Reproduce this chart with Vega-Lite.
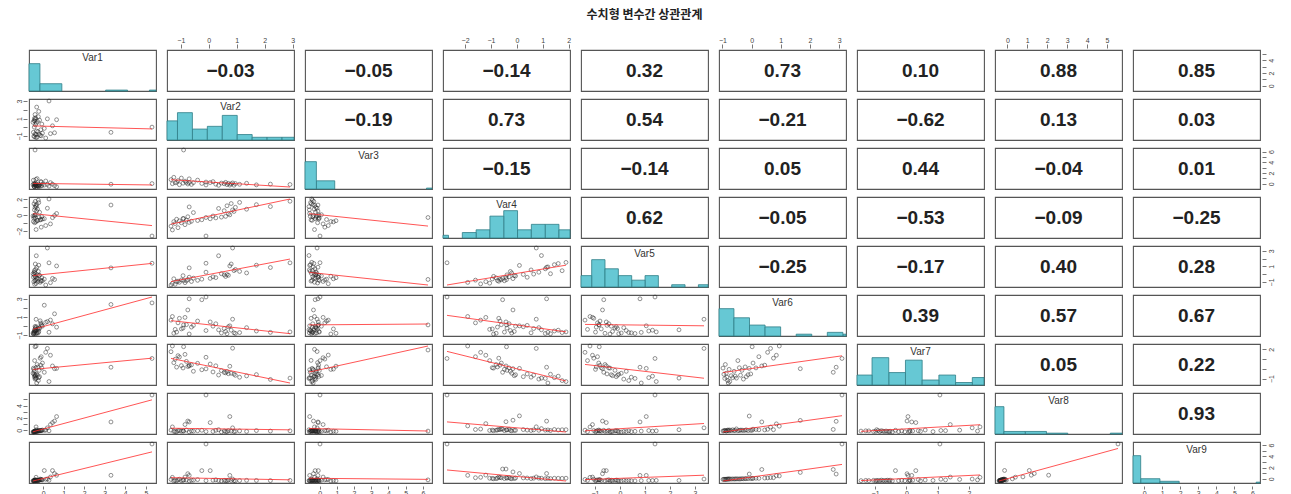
{
  "$schema": "https://vega.github.io/schema/vega-lite/v6.json",
  "background": "white",
  "padding": {"left": 15, "top": 9, "right": 10, "bottom": 2},
  "title": {"text": "수치형 변수간 상관관계", "font": "Noto Sans CJK KR", "fontSize": 12, "fontWeight": "bold", "color": "#222", "offset": 14, "anchor": "middle"},
  "config": {"font": "Liberation Sans", "view": {"stroke": "#555", "strokeWidth": 1.1}},
  "data": {"values": [
    {"Var1":5.3,"Var2":-0.1,"Var3":0.02,"Var4":-2.7,"Var5":1.4,"Var6":3.1,"Var7":1.07,"Var8":5.55,"Var9":6.2},
    {"Var1":3.3,"Var2":-0.7,"Var3":-0.1,"Var4":1.15,"Var5":0.8,"Var6":2.9,"Var7":0.17,"Var8":1.2,"Var9":0.6},
    {"Var1":-0.4,"Var2":-0.9,"Var3":6.3,"Var4":-0.4,"Var5":-0.83,"Var6":0.02,"Var7":2.27,"Var8":-0.27,"Var9":-0.2},
    {"Var1":0.12,"Var2":-1.35,"Var3":0.5,"Var4":-1.4,"Var5":-1.4,"Var6":0.55,"Var7":1.7,"Var8":-0.12,"Var9":-0.12},
    {"Var1":-0.35,"Var2":-1.3,"Var3":-0.3,"Var4":-1.9,"Var5":-1.2,"Var6":0.95,"Var7":2.35,"Var8":0.4,"Var9":0.25},
    {"Var1":-0.3,"Var2":-1.25,"Var3":0.95,"Var4":-0.8,"Var5":-0.6,"Var6":-0.9,"Var7":0.45,"Var8":-0.32,"Var9":-0.38},
    {"Var1":-0.42,"Var2":-1.2,"Var3":-0.12,"Var4":-1.05,"Var5":-1.3,"Var6":-0.47,"Var7":0.85,"Var8":-0.36,"Var9":-0.3},
    {"Var1":-0.46,"Var2":-1.15,"Var3":-0.02,"Var4":-0.48,"Var5":-0.98,"Var6":-0.77,"Var7":-0.05,"Var8":-0.38,"Var9":-0.36},
    {"Var1":-0.1,"Var2":-1.1,"Var3":0.3,"Var4":-1.6,"Var5":-0.9,"Var6":0.25,"Var7":1.25,"Var8":-0.2,"Var9":-0.2},
    {"Var1":-0.15,"Var2":-1.05,"Var3":-0.5,"Var4":-0.7,"Var5":-1.05,"Var6":0.75,"Var7":1.1,"Var8":-0.18,"Var9":-0.08},
    {"Var1":-0.36,"Var2":-0.98,"Var3":0.8,"Var4":-0.95,"Var5":-0.75,"Var6":-0.42,"Var7":0.12,"Var8":-0.3,"Var9":-0.33},
    {"Var1":-0.2,"Var2":-0.92,"Var3":-0.2,"Var4":-0.38,"Var5":-0.2,"Var6":-0.33,"Var7":-0.15,"Var8":-0.25,"Var9":-0.28},
    {"Var1":0.35,"Var2":-0.85,"Var3":0.2,"Var4":-1.2,"Var5":-1.1,"Var6":0.85,"Var7":1.4,"Var8":0.78,"Var9":0.3},
    {"Var1":-0.04,"Var2":-0.8,"Var3":-0.06,"Var4":-0.6,"Var5":-0.85,"Var6":0.05,"Var7":0.6,"Var8":-0.1,"Var9":-0.22},
    {"Var1":0.55,"Var2":-0.75,"Var3":-0.36,"Var4":-0.15,"Var5":-0.7,"Var6":1.67,"Var7":0.02,"Var8":1.35,"Var9":0.9},
    {"Var1":-0.48,"Var2":-0.7,"Var3":0.65,"Var4":-0.9,"Var5":-0.4,"Var6":-0.98,"Var7":0.08,"Var8":-0.4,"Var9":-0.4},
    {"Var1":-0.26,"Var2":-0.62,"Var3":-0.44,"Var4":-0.75,"Var5":-0.95,"Var6":-0.22,"Var7":0.2,"Var8":-0.27,"Var9":-0.27},
    {"Var1":-0.33,"Var2":-0.55,"Var3":-0.1,"Var4":0.4,"Var5":-0.52,"Var6":-0.03,"Var7":-0.52,"Var8":-0.29,"Var9":-0.25},
    {"Var1":-0.12,"Var2":-0.4,"Var3":0.4,"Var4":-0.65,"Var5":-0.8,"Var6":0.45,"Var7":0.38,"Var8":-0.22,"Var9":-0.15},
    {"Var1":0.05,"Var2":-0.25,"Var3":-0.26,"Var4":-0.55,"Var5":-0.65,"Var6":2.8,"Var7":-0.35,"Var8":-0.14,"Var9":1.45},
    {"Var1":-0.44,"Var2":-0.1,"Var3":-0.55,"Var4":-0.25,"Var5":0.25,"Var6":-0.6,"Var7":-0.25,"Var8":-0.35,"Var9":-0.34},
    {"Var1":0.45,"Var2":0.05,"Var3":-0.08,"Var4":-0.42,"Var5":-0.55,"Var6":0.35,"Var7":0.3,"Var8":1.1,"Var9":1.45},
    {"Var1":-0.38,"Var2":0.15,"Var3":0.1,"Var4":-0.05,"Var5":-0.35,"Var6":-0.12,"Var7":-0.6,"Var8":-0.33,"Var9":-0.26},
    {"Var1":-0.07,"Var2":0.25,"Var3":-0.4,"Var4":-0.3,"Var5":-0.45,"Var6":0.15,"Var7":0.1,"Var8":-0.15,"Var9":-0.18},
    {"Var1":-0.34,"Var2":0.35,"Var3":-0.62,"Var4":0.95,"Var5":2.36,"Var6":-0.52,"Var7":-0.95,"Var8":-0.05,"Var9":-0.3},
    {"Var1":-0.5,"Var2":0.45,"Var3":-0.18,"Var4":-0.2,"Var5":0.05,"Var6":-0.87,"Var7":-0.45,"Var8":-0.42,"Var9":-0.39},
    {"Var1":-0.28,"Var2":0.55,"Var3":-0.32,"Var4":0.65,"Var5":-0.1,"Var6":-0.38,"Var7":-0.65,"Var8":-0.26,"Var9":-0.29},
    {"Var1":-0.41,"Var2":0.6,"Var3":-0.04,"Var4":-0.1,"Var5":-0.3,"Var6":-0.7,"Var7":-0.7,"Var8":-0.34,"Var9":-0.35},
    {"Var1":-0.45,"Var2":0.65,"Var3":-0.48,"Var4":1.3,"Var5":-0.05,"Var6":-0.95,"Var7":-0.55,"Var8":-0.37,"Var9":-0.37},
    {"Var1":-0.18,"Var2":0.7,"Var3":-0.24,"Var4":0.25,"Var5":-0.15,"Var6":-0.18,"Var7":-0.8,"Var8":-0.21,"Var9":-0.24},
    {"Var1":0.65,"Var2":0.75,"Var3":-0.58,"Var4":0.1,"Var5":1.05,"Var6":-0.08,"Var7":0.05,"Var8":2.07,"Var9":0.6},
    {"Var1":-0.39,"Var2":0.8,"Var3":-0.34,"Var4":1.6,"Var5":1.3,"Var6":-0.56,"Var7":-0.75,"Var8":-0.28,"Var9":-0.31},
    {"Var1":0.2,"Var2":0.85,"Var3":-0.15,"Var4":0.75,"Var5":3.36,"Var6":0.65,"Var7":2.1,"Var8":0.25,"Var9":-0.05},
    {"Var1":-0.43,"Var2":0.9,"Var3":-0.6,"Var4":0.55,"Var5":0.45,"Var6":-0.85,"Var7":-0.85,"Var8":-0.36,"Var9":-0.36},
    {"Var1":-0.37,"Var2":0.95,"Var3":-0.28,"Var4":1.1,"Var5":0.6,"Var6":-0.92,"Var7":-0.98,"Var8":-0.31,"Var9":-0.38},
    {"Var1":-0.24,"Var2":1.1,"Var3":-0.42,"Var4":1.75,"Var5":0.35,"Var6":-0.82,"Var7":-1.2,"Var8":-0.24,"Var9":-0.32},
    {"Var1":-0.4,"Var2":1.35,"Var3":-0.22,"Var4":0.85,"Var5":0.15,"Var6":-0.28,"Var7":-1.05,"Var8":-0.33,"Var9":-0.28},
    {"Var1":-0.22,"Var2":1.7,"Var3":-0.53,"Var4":1.45,"Var5":1.15,"Var6":-0.65,"Var7":-0.9,"Var8":-0.19,"Var9":-0.3},
    {"Var1":-0.32,"Var2":2.2,"Var3":-0.38,"Var4":1.2,"Var5":0.85,"Var6":-0.8,"Var7":-1.45,"Var8":-0.27,"Var9":-0.33},
    {"Var1":0.28,"Var2":2.9,"Var3":-0.46,"Var4":1.9,"Var5":1.45,"Var6":-0.75,"Var7":-1.3,"Var8":-0.23,"Var9":-0.29},
    {"cx":"Var2","cy":"Var1","r":-0.03},
    {"cx":"Var3","cy":"Var1","r":-0.05},
    {"cx":"Var4","cy":"Var1","r":-0.14},
    {"cx":"Var5","cy":"Var1","r":0.32},
    {"cx":"Var6","cy":"Var1","r":0.73},
    {"cx":"Var7","cy":"Var1","r":0.10},
    {"cx":"Var8","cy":"Var1","r":0.88},
    {"cx":"Var9","cy":"Var1","r":0.85},
    {"cx":"Var3","cy":"Var2","r":-0.19},
    {"cx":"Var4","cy":"Var2","r":0.73},
    {"cx":"Var5","cy":"Var2","r":0.54},
    {"cx":"Var6","cy":"Var2","r":-0.21},
    {"cx":"Var7","cy":"Var2","r":-0.62},
    {"cx":"Var8","cy":"Var2","r":0.13},
    {"cx":"Var9","cy":"Var2","r":0.03},
    {"cx":"Var4","cy":"Var3","r":-0.15},
    {"cx":"Var5","cy":"Var3","r":-0.14},
    {"cx":"Var6","cy":"Var3","r":0.05},
    {"cx":"Var7","cy":"Var3","r":0.44},
    {"cx":"Var8","cy":"Var3","r":-0.04},
    {"cx":"Var9","cy":"Var3","r":0.01},
    {"cx":"Var5","cy":"Var4","r":0.62},
    {"cx":"Var6","cy":"Var4","r":-0.05},
    {"cx":"Var7","cy":"Var4","r":-0.53},
    {"cx":"Var8","cy":"Var4","r":-0.09},
    {"cx":"Var9","cy":"Var4","r":-0.25},
    {"cx":"Var6","cy":"Var5","r":-0.25},
    {"cx":"Var7","cy":"Var5","r":-0.17},
    {"cx":"Var8","cy":"Var5","r":0.40},
    {"cx":"Var9","cy":"Var5","r":0.28},
    {"cx":"Var7","cy":"Var6","r":0.39},
    {"cx":"Var8","cy":"Var6","r":0.57},
    {"cx":"Var9","cy":"Var6","r":0.67},
    {"cx":"Var8","cy":"Var7","r":0.05},
    {"cx":"Var9","cy":"Var7","r":0.22},
    {"cx":"Var9","cy":"Var8","r":0.93}
  ]},
  "transform": [
    {"fold": ["Var1","Var2","Var3","Var4","Var5","Var6","Var7","Var8","Var9"], "as": ["xvar","xval"]},
    {"fold": ["Var1","Var2","Var3","Var4","Var5","Var6","Var7","Var8","Var9"], "as": ["yvar","yval"]}
  ],
  "columns": 3,
  "spacing": 0,
  "align": "each",
  "concat": [
    {"width": 1, "height": 1, "view": {"stroke": null}, "transform": [{"filter": "false"}], "mark": {"type": "point", "opacity": 0}, "encoding": {}},
    {
      "spacing": 11,
      "hconcat": [
        {"width": 127, "height": 1, "view": {"stroke": null}, "transform": [{"filter": "false"}], "mark": {"type": "point", "opacity": 0}, "encoding": {}},
        {
          "transform": [{"filter": "isValid(datum.xval) && datum.xvar == datum.yvar && indexof(['Var2','Var4','Var6','Var8'], datum.xvar) >= 0"}],
          "facet": {"column": {"field": "xvar", "type": "nominal", "title": null, "header": null}},
          "spacing": {"column": 149},
          "bounds": "flush",
          "resolve": {"scale": {"x": "independent"}},
          "spec": {
            "width": 127, "height": 1, "view": {"stroke": null},
            "mark": {"type": "point", "opacity": 0, "size": 0},
            "encoding": {
              "x": {"field": "xval", "type": "quantitative", "scale": {"zero": false, "nice": false, "padding": 4},
                    "axis": {"orient": "top", "title": null, "domain": false, "grid": false, "tickSize": 4, "tickColor": "#555", "tickWidth": 0.8, "labelFontSize": 7, "labelColor": "#444", "labelPadding": 1, "tickCount": 6, "tickMinStep": 1, "labelFlush": true}}
            }
          }
        }
      ]
    },
    {"width": 1, "height": 1, "view": {"stroke": null}, "transform": [{"filter": "false"}], "mark": {"type": "point", "opacity": 0}, "encoding": {}},
    {
      "spacing": 8,
      "vconcat": [
        {"width": 1, "height": 41, "view": {"stroke": null}, "transform": [{"filter": "false"}], "mark": {"type": "point", "opacity": 0}, "encoding": {}},
        {
          "transform": [{"filter": "isValid(datum.yval) && datum.xvar == datum.yvar && indexof(['Var2','Var4','Var6','Var8'], datum.yvar) >= 0"}],
          "facet": {"row": {"field": "yvar", "type": "nominal", "title": null, "header": null}},
          "spacing": {"row": 57},
          "bounds": "flush",
          "resolve": {"scale": {"y": "independent"}},
          "spec": {
            "width": 1, "height": 41, "view": {"stroke": null},
            "mark": {"type": "point", "opacity": 0, "size": 0},
            "encoding": {
              "y": {"field": "yval", "type": "quantitative", "scale": {"zero": false, "nice": false, "padding": 2},
                    "axis": {"orient": "left", "title": null, "domain": false, "grid": false, "tickSize": 4, "tickColor": "#555", "tickWidth": 0.8, "labelFontSize": 7, "labelColor": "#444", "labelPadding": 1, "labelAngle": -90, "tickCount": 6, "tickMinStep": 1, "labelFlush": true, "labelOverlap": "parity", "labelSeparation": 4}}
            }
          }
        }
      ]
    },
    {
      "facet": {
        "row": {"field": "yvar", "type": "nominal", "title": null, "header": null},
        "column": {"field": "xvar", "type": "nominal", "title": null, "header": null}
      },
      "spacing": {"row": 8, "column": 11},
      "bounds": "flush",
      "resolve": {"scale": {"x": "independent", "y": "independent"}},
      "spec": {
        "width": 127,
        "height": 41,
        "resolve": {"scale": {"x": "independent", "y": "independent"}},
        "layer": [
          {
            "transform": [{"filter": "isValid(datum.xval) && datum.xvar < datum.yvar"}],
            "layer": [
              {
                "mark": {"type": "point", "shape": "circle", "filled": false, "size": 15, "stroke": "#222", "strokeWidth": 0.7},
                "encoding": {
                  "x": {"field": "xval", "type": "quantitative", "scale": {"zero": false, "nice": false, "padding": 4}, "axis": null},
                  "y": {"field": "yval", "type": "quantitative", "scale": {"zero": false, "nice": false, "padding": 2}, "axis": null}
                }
              },
              {
                "transform": [{"regression": "yval", "on": "xval", "groupby": ["xvar","yvar"]}],
                "mark": {"type": "line", "color": "#ff2a2a", "strokeWidth": 0.8},
                "encoding": {
                  "x": {"field": "xval", "type": "quantitative"},
                  "y": {"field": "yval", "type": "quantitative"}
                }
              }
            ]
          },
          {
            "transform": [
              {"filter": "isValid(datum.xval) && datum.xvar == datum.yvar"},
              {"calculate": "indexof(['Var1','Var3','Var8','Var9'], datum.xvar) >= 0 ? 1 : 0.5", "as": "step"},
              {"calculate": "floor(datum.xval / datum.step) * datum.step", "as": "b0"},
              {"joinaggregate": [{"op": "min", "field": "xval", "as": "mn"}, {"op": "max", "field": "xval", "as": "mx"}], "groupby": ["xvar"]},
              {"aggregate": [{"op": "count", "as": "n"}, {"op": "min", "field": "mn", "as": "mn"}, {"op": "max", "field": "mx", "as": "mx"}, {"op": "max", "field": "step", "as": "step"}], "groupby": ["xvar","yvar","b0"]},
              {"calculate": "max(datum.b0, datum.mn)", "as": "x0"},
              {"calculate": "min(datum.b0 + datum.step, datum.mx)", "as": "x1"},
              {"joinaggregate": [{"op": "max", "field": "n", "as": "maxn"}], "groupby": ["xvar"]},
              {"calculate": "datum.maxn * 1.5", "as": "top"},
              {"calculate": "datum.maxn * 1.2", "as": "laby"},
              {"calculate": "(datum.mn + datum.mx) / 2", "as": "mid"}
            ],
            "layer": [
              {
                "mark": {"type": "bar", "fill": "#66c8d4", "stroke": "#2f7d86", "strokeWidth": 0.8},
                "encoding": {
                  "x": {"field": "x0", "type": "quantitative", "scale": {"zero": false, "nice": false, "padding": 0}, "axis": null},
                  "x2": {"field": "x1"},
                  "y": {"field": "n", "type": "quantitative", "scale": {"zero": true, "nice": false}, "axis": null},
                  "y2": {"datum": 0}
                }
              },
              {
                "mark": {"type": "point", "opacity": 0, "size": 0},
                "encoding": {
                  "x": {"field": "x0", "type": "quantitative"},
                  "y": {"field": "top", "type": "quantitative"}
                }
              },
              {
                "transform": [{"filter": "datum.x0 == datum.mn"}],
                "mark": {"type": "text", "fontSize": 10, "color": "#333", "baseline": "middle"},
                "encoding": {
                  "x": {"field": "mid", "type": "quantitative"},
                  "y": {"field": "laby", "type": "quantitative"},
                  "text": {"field": "xvar"}
                }
              }
            ]
          },
          {
            "transform": [{"filter": "datum.cx == datum.xvar && datum.cy == datum.yvar"}],
            "mark": {"type": "text", "fontSize": 19, "fontWeight": "bold", "color": "#222"},
            "encoding": {
              "x": {"field": "cx", "type": "nominal", "axis": null},
              "y": {"field": "cy", "type": "nominal", "axis": null},
              "text": {"field": "r", "type": "quantitative", "format": ".2f"}
            }
          }
        ]
      }
    },
    {
      "transform": [{"filter": "isValid(datum.yval) && datum.xvar == datum.yvar && indexof(['Var1','Var3','Var5','Var7','Var9'], datum.yvar) >= 0"}],
      "facet": {"row": {"field": "yvar", "type": "nominal", "title": null, "header": null}},
      "spacing": {"row": 57},
      "bounds": "flush",
      "resolve": {"scale": {"y": "independent"}},
      "spec": {
        "width": 1, "height": 41, "view": {"stroke": null},
        "mark": {"type": "point", "opacity": 0, "size": 0},
        "encoding": {
          "y": {"field": "yval", "type": "quantitative", "scale": {"zero": false, "nice": false, "padding": 2},
                "axis": {"orient": "right", "title": null, "domain": false, "grid": false, "tickSize": 4, "tickColor": "#555", "tickWidth": 0.8, "labelFontSize": 7, "labelColor": "#444", "labelPadding": 1, "labelAngle": -90, "tickCount": 6, "tickMinStep": 1, "labelFlush": true, "labelOverlap": "parity", "labelSeparation": 4}}
        }
      }
    },
    {"width": 1, "height": 1, "view": {"stroke": null}, "transform": [{"filter": "false"}], "mark": {"type": "point", "opacity": 0}, "encoding": {}},
    {
      "transform": [{"filter": "isValid(datum.xval) && datum.xvar == datum.yvar && indexof(['Var1','Var3','Var5','Var7','Var9'], datum.xvar) >= 0"}],
      "facet": {"column": {"field": "xvar", "type": "nominal", "title": null, "header": null}},
      "spacing": {"column": 149},
      "bounds": "flush",
      "resolve": {"scale": {"x": "independent"}},
      "spec": {
        "width": 127, "height": 1, "view": {"stroke": null},
        "mark": {"type": "point", "opacity": 0, "size": 0},
        "encoding": {
          "x": {"field": "xval", "type": "quantitative", "scale": {"zero": false, "nice": false, "padding": 4},
                "axis": {"orient": "bottom", "title": null, "domain": false, "grid": false, "tickSize": 3, "tickColor": "#555", "tickWidth": 0.8, "labelFontSize": 7, "labelColor": "#444", "labelPadding": 0, "tickCount": 6, "tickMinStep": 1, "labelFlush": true}}
        }
      }
    },
    {"width": 1, "height": 1, "view": {"stroke": null}, "transform": [{"filter": "false"}], "mark": {"type": "point", "opacity": 0}, "encoding": {}}
  ]
}
